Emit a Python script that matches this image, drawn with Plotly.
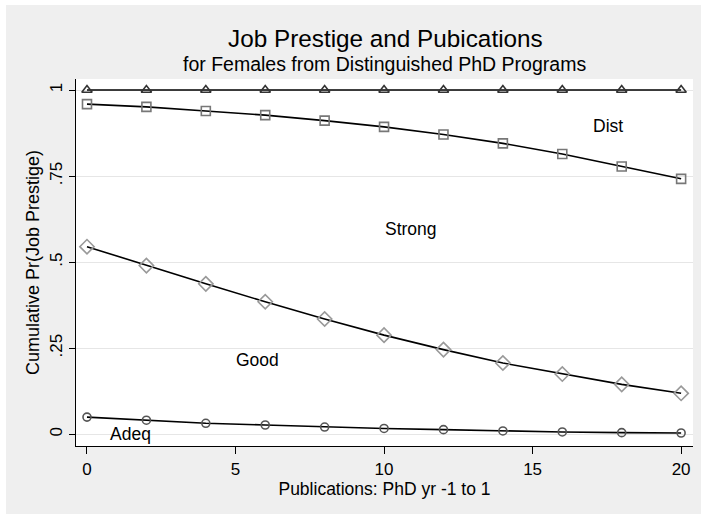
import plotly.graph_objects as go

# Publications (x) and cumulative predicted probabilities per outcome threshold
pubs = [0, 2, 4, 6, 8, 10, 12, 14, 16, 18, 20]
cum_dist = [1, 1, 1, 1, 1, 1, 1, 1, 1, 1, 1]
cum_strong = [0.959, 0.951, 0.939, 0.927, 0.911, 0.893, 0.871, 0.845, 0.814, 0.778, 0.742]
cum_good = [0.545, 0.490, 0.437, 0.385, 0.335, 0.288, 0.246, 0.207, 0.175, 0.145, 0.119]
cum_adeq = [0.050, 0.041, 0.032, 0.027, 0.021, 0.017, 0.0135, 0.0097, 0.0068, 0.0048, 0.0038]

y_tick_vals = [0, 0.25, 0.5, 0.75, 1]
y_tick_text = ["0", ".25", ".5", ".75", "1"]
x_tick_vals = [0, 5, 10, 15, 20]

region_labels = ["Dist", "Strong", "Good", "Adeq"]
label_x = [17.55, 10.9, 5.75, 1.45]
label_y = [0.895, 0.596, 0.216, 0.0]

title_text = "Job Prestige and Pubications"
subtitle_text = "for Females from Distinguished PhD Programs"

FONT = "Liberation Sans, Arial, sans-serif"
W, H = 701, 514
ML, MR, MT, MB = 76, 8, 79, 68
PW, PH = W - ML - MR, H - MT - MB


def px_x(px):
    return (px - ML) / PW


def px_y(py):
    return (H - MB - py) / PH


series = [
    (cum_dist, "triangle-up-open", 9, "#333333"),
    (cum_strong, "square-open", 9, "#777777"),
    (cum_good, "diamond-open", 11, "#999999"),
    (cum_adeq, "circle-open", 8, "#555555"),
]

fig = go.Figure()
for vals, sym, size, col in series:
    fig.add_trace(go.Scatter(
        x=pubs, y=vals, mode="lines+markers",
        line=dict(color="black", width=1.6),
        marker=dict(symbol=sym, size=size, color=col, line=dict(color=col, width=1.6)),
        showlegend=False, cliponaxis=False,
    ))

for txt, lx, ly in zip(region_labels, label_x, label_y):
    fig.add_annotation(x=lx, y=ly, text=txt, showarrow=False,
                       font=dict(family=FONT, size=17.5, color="black"))

# Title and subtitle
fig.add_annotation(text=title_text, xref="paper", yref="paper",
                   x=px_x(385), y=px_y(38), xanchor="center", yanchor="middle",
                   showarrow=False, font=dict(family=FONT, size=24.3, color="black"))
fig.add_annotation(text=subtitle_text, xref="paper", yref="paper",
                   x=px_x(384), y=px_y(64), xanchor="center", yanchor="middle",
                   showarrow=False, font=dict(family=FONT, size=19.5, color="black"))

# Thin white border along the top and left edges of the graph region
fig.add_shape(type="rect", xref="paper", yref="paper", layer="above",
              x0=px_x(0), x1=px_x(6), y0=px_y(H), y1=px_y(0),
              fillcolor="white", line=dict(width=0))
fig.add_shape(type="rect", xref="paper", yref="paper", layer="above",
              x0=px_x(0), x1=px_x(W), y0=px_y(5), y1=px_y(0),
              fillcolor="white", line=dict(width=0))

fig.update_layout(
    width=W, height=H,
    margin=dict(l=ML, r=MR, t=MT, b=MB),
    paper_bgcolor="#efefef", plot_bgcolor="white",
    font=dict(family=FONT, color="black"),
)
fig.update_xaxes(
    range=[-0.37, 20.4], tickvals=x_tick_vals, ticks="outside", ticklen=7,
    tickcolor="black", showline=True, linecolor="black", linewidth=1.3,
    showgrid=False, zeroline=False, tickfont=dict(size=17),
    title=dict(text="Publications: PhD yr -1 to 1", font=dict(size=17.5), standoff=0),
)
fig.update_yaxes(
    range=[-0.034, 1.032], tickvals=y_tick_vals, ticktext=y_tick_text,
    tickangle=-90, ticks="outside", ticklen=6, tickcolor="black",
    showline=True, linecolor="black", linewidth=1.3,
    showgrid=True, gridcolor="#e6e6e6", gridwidth=1.3, zeroline=False,
    tickfont=dict(size=17),
    title=dict(text="Cumulative Pr(Job Prestige)", font=dict(size=18), standoff=2),
)

fig.write_html("out.html")
